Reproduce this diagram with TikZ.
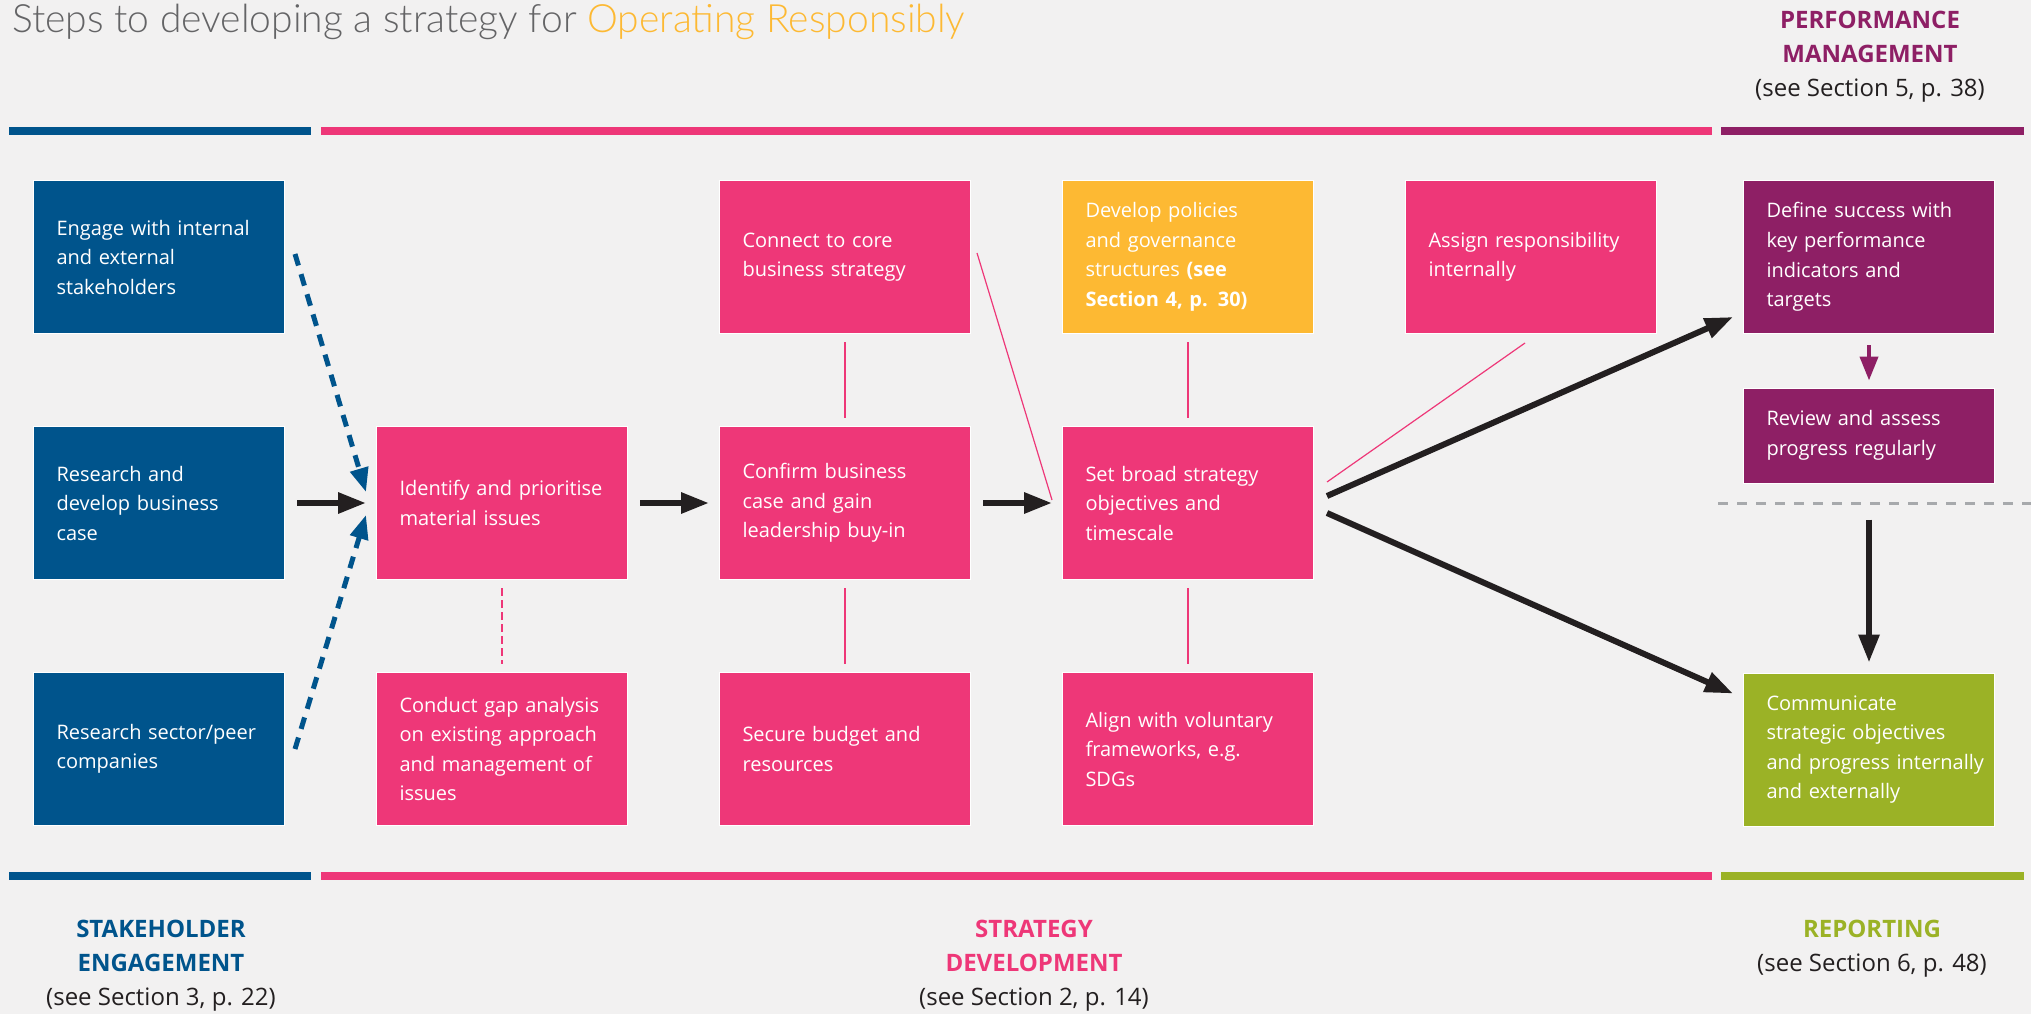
\documentclass[tikz,border=0pt]{standalone}
\usepackage{fontspec}
\setmainfont{Open Sans}
\newfontfamily\titlefont{Lato Light}
\usetikzlibrary{arrows.meta,positioning,calc}

\definecolor{stakeblue}{RGB}{0,84,140}
\definecolor{stratpink}{RGB}{238,55,120}
\definecolor{policyyellow}{RGB}{253,185,51}
\definecolor{perfpurple}{RGB}{142,31,101}
\definecolor{reportgreen}{RGB}{155,178,38}
\definecolor{paper}{RGB}{242,241,241}
\definecolor{titlegrey}{RGB}{100,100,102}
\definecolor{ink}{RGB}{35,31,32}
\definecolor{rulegrey}{RGB}{167,169,172}

\begin{document}
\begin{tikzpicture}[x=1pt,y=-1pt,>={Triangle[length=28pt,width=20pt]},
    node distance=246pt and 343pt,on grid,
    main node/.style={rectangle,draw=white,line width=1pt,minimum width=251pt,
      minimum height=153pt,inner xsep=6pt,inner ysep=0pt,text width=239pt,align=left,
      text=white,font=\fontsize{20}{29.5}\selectfont,
      execute at begin node={\leftskip=17pt\relax}},
    stake node/.style={main node,fill=stakeblue},
    strat node/.style={main node,fill=stratpink},
    policy node/.style={main node,fill=policyyellow},
    perf node/.style={main node,fill=perfpurple},
    report node/.style={main node,fill=reportgreen},
    flow arrow/.style={->,ink,line width=6pt},
    gap/.style={shorten <=12pt,shorten >=10pt},
    stake arrow/.style={-{Triangle[length=24pt,width=18pt]},stakeblue,line width=5pt,
      dash pattern=on 12pt off 9pt},
    link line/.style={stratpink,line width=1.2pt,shorten <=8pt,shorten >=8pt},
    section bar/.style={line width=8pt},
    heading/.style={align=center,inner sep=0pt,anchor=north,text=ink,
      font=\fontsize{24}{34}\selectfont}]
    \useasboundingbox (0,0) rectangle (2031,1014);
    \fill[paper] (0,0) rectangle (2031,1014);

    % title and section headings
    \node[anchor=base west,inner sep=0pt,text=titlegrey,font=\titlefont\fontsize{39}{42}\selectfont]
      (title) at (12,33) {Steps to developing a strategy for {\color{policyyellow}Operating Responsibly}};
    \node[heading] (perfhead) at (1870,11)
      {{\color{perfpurple}\bfseries PERFORMANCE}\\{\color{perfpurple}\bfseries MANAGEMENT}\\(see Section 5, p. 38)};
    \node[heading] (stakehead) at (161,920)
      {{\color{stakeblue}\bfseries STAKEHOLDER}\\{\color{stakeblue}\bfseries ENGAGEMENT}\\(see Section 3, p. 22)};
    \node[heading] (strathead) at (1034,920)
      {{\color{stratpink}\bfseries STRATEGY}\\{\color{stratpink}\bfseries DEVELOPMENT}\\(see Section 2, p. 14)};
    \node[heading] (reporthead) at (1872,920)
      {{\color{reportgreen}\bfseries REPORTING}\\(see Section 6, p. 48)};

    % coloured bars
    \draw[section bar,stakeblue] (9,131) -- (311,131);
    \draw[section bar,stratpink] (321,131) -- (1712,131);
    \draw[section bar,perfpurple] (1721,131) -- (2024,131);
    \draw[section bar,stakeblue] (9,876) -- (311,876);
    \draw[section bar,stratpink] (321,876) -- (1712,876);
    \draw[section bar,reportgreen] (1721,876) -- (2024,876);
    \draw[rulegrey,line width=3pt,dash pattern=on 10pt off 9pt] (1718,503) -- (2031,503);

    % boxes
    \node[stake node] (engage) at (159,257) {Engage with internal\\and external\\stakeholders};
    \node[stake node] (research) [below=of engage] {Research and\\develop business\\case};
    \node[stake node] (peers) [below=of research] {Research sector/peer\\companies};
    \node[strat node] (identify) [right=of research] {Identify and prioritise\\material issues};
    \node[strat node] (gap) [below=of identify] {Conduct gap analysis\\on existing approach\\and management of\\issues};
    \node[strat node] (confirm) [right=of identify] {Confirm business\\case and gain\\leadership buy-in};
    \node[strat node] (connect) [above=of confirm] {Connect to core\\business strategy};
    \node[strat node] (budget) [below=of confirm] {Secure budget and\\resources};
    \node[strat node] (objectives) [right=of confirm] {Set broad strategy\\objectives and\\timescale};
    \node[policy node] (policies) [above=of objectives] {Develop policies\\and governance\\structures {\bfseries (see}\\{\bfseries Section 4, p. 30)}};
    \node[strat node] (frameworks) [below=of objectives] {Align with voluntary\\frameworks, e.g.\\SDGs};
    \node[strat node] (assign) [right=of policies] {Assign responsibility\\internally};
    \node[perf node] (kpis) [right=338pt of assign] {Define success with\\key performance\\indicators and\\targets};
    \node[perf node,minimum height=95pt] (review) [below=178.5pt of kpis] {Review and assess\\progress regularly};
    \node[report node] (communicate) [below=314pt of review] {Communicate\\strategic objectives\\and progress internally\\and externally};

    % connectors
    \draw[flow arrow,gap] (research) -- (identify);
    \draw[flow arrow,gap] (identify) -- (confirm);
    \draw[flow arrow,gap] (confirm) -- (objectives);
    \draw[stake arrow] ($(engage.east)+(10,-3)$) -- ($(identify.west)+(-10,-11)$);
    \draw[stake arrow] ($(peers.east)+(10,0)$) -- ($(identify.west)+(-10,12)$);
    \draw[link line,dash pattern=on 8pt off 4pt] (identify) -- (gap);
    \draw[link line] (connect) -- (confirm);
    \draw[link line] (confirm) -- (budget);
    \draw[link line] (policies) -- (objectives);
    \draw[link line] (objectives) -- (frameworks);
    \draw[link line,shorten <=0pt,shorten >=0pt] ($(connect.east)+(6,-4)$) -- ($(objectives.west)+(-10,-3)$);
    \draw[link line,shorten <=0pt,shorten >=0pt] ($(assign.south)+(-6,9)$) -- ($(objectives.east)+(13,-21)$);
    \draw[flow arrow] ($(objectives.east)+(13,-7)$) -- ($(kpis.south west)+(-10,-17)$);
    \draw[flow arrow] ($(objectives.east)+(13,10)$) -- ($(communicate.north west)+(-10,21)$);
    \draw[-{Triangle[length=24pt,width=18pt]},perfpurple,line width=4pt,shorten <=11pt,shorten >=7pt] (kpis) -- (review);
    \draw[flow arrow,shorten <=36pt,shorten >=10pt] (review) -- (communicate);
\end{tikzpicture}
\end{document}
